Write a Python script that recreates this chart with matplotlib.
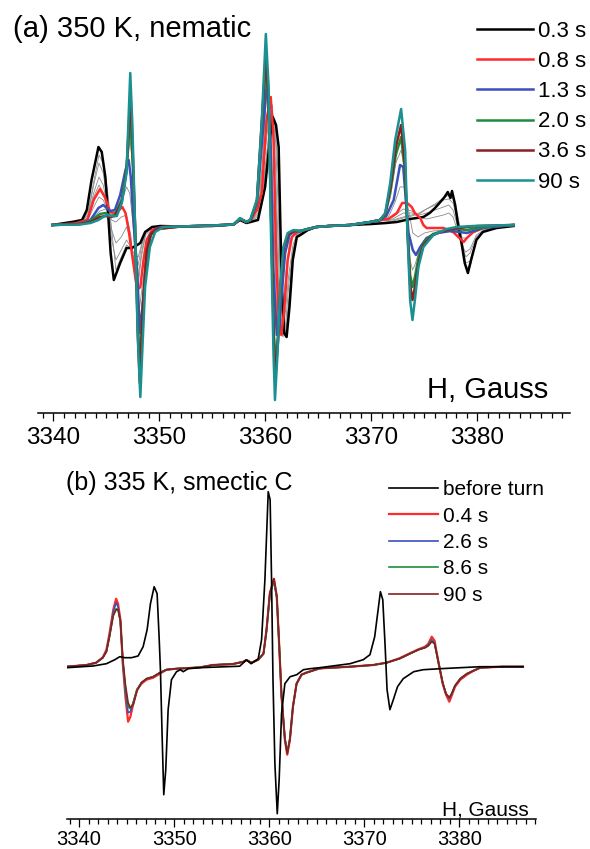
import matplotlib
matplotlib.use("Agg")
import matplotlib.pyplot as plt
from matplotlib.ticker import MultipleLocator

plt.rcParams['font.family'] = ['Liberation Sans', 'DejaVu Sans']

# ---------------- panel (a): 350 K, nematic ----------------
# field H (Gauss) and signal (arb. units, baseline = 0)
h_03s_a = [3339.9, 3341.9, 3342.7, 3343.15, 3343.6, 3344.25, 3344.56, 3344.9, 3345.2, 3345.4, 3345.7, 3346.3,
           3346.9, 3347.4, 3347.9, 3348.2, 3348.65, 3349.3, 3350.1,
           3352.0, 3355.0,
           3357.0, 3357.6, 3358.2, 3358.6, 3359.3, 3359.97, 3360.45, 3360.7, 3361.0, 3361.25, 3361.4, 3361.55,
           3361.77, 3362.0, 3362.27, 3362.58, 3362.96, 3363.3,
           3364.0, 3364.8, 3366.0, 3368.0, 3370.0,
           3371.4, 3372.4, 3373.65, 3374.9, 3375.5, 3376.0, 3376.5, 3376.9, 3377.2, 3377.45, 3377.6, 3377.9,
           3378.2, 3378.5, 3378.8, 3379.1, 3379.4, 3379.9, 3380.5, 3381.8, 3383.4]
i_03s_a = [0, 3.3, 5, 15, 45, 78, 73, 48, 5, -28, -55, -38, -23, -23, -20, -18, -7, -2, -1,
           -1.5, -1,
           0.5, 5, 2, 3, 5, 38, 88, 108, 100, 78, 5, -62, -108, -112, -82, -35, -12, -10,
           -5, -2, -1, 0, 1,
           2, 3, 6, 8, 12, 17, 23, 28, 33, 27, 34, 20, -2, -18, -38, -48, -35, -15, -7, -3, -1]

h_08s_a = [3339.9, 3342.0, 3343.2, 3343.8, 3344.4, 3344.9, 3345.35, 3345.8, 3346.2, 3346.5, 3346.8, 3347.1,
           3347.4, 3347.9, 3348.2, 3348.5, 3348.8, 3349.3, 3350.2,
           3352.0, 3355.0,
           3357.0, 3357.6, 3358.2, 3358.6, 3359.2, 3359.66, 3360.1, 3360.5, 3360.76, 3361.0, 3361.25, 3361.5,
           3361.77, 3362.1, 3362.5, 3363.0,
           3364.0, 3364.8, 3366.0, 3368.0, 3369.9,
           3370.8, 3371.6, 3372.4, 3372.9, 3373.37, 3373.8, 3374.1, 3374.6, 3374.9, 3375.2, 3375.84, 3376.8,
           3377.7, 3378.2, 3378.7, 3379.0, 3379.6, 3380.8, 3383.4]
i_08s_a = [0, 1.5, 5, 25, 36, 27, 13, 12, 15, 18, 12, -5, -28, -65, -62, -35, -15, -5, -2,
           -1.5, -0.5,
           0.5, 6, 3, 5, 15, 32, 105, 128, 88, -28, -95, -110, -85, -35, -12, -7,
           -4, -2, -1, 0, 3,
           5, 6, 12, 22, 22, 18, 12, 7, 0, -3, -3, -3, -7, -12, -17, -13, -7, -2, 0]

h_13s_a = [3339.9, 3342.5, 3343.5, 3344.25, 3344.7, 3345.35, 3345.8, 3346.3, 3346.8, 3347.1, 3347.3, 3347.55,
           3347.9, 3348.15, 3348.4, 3348.75, 3349.1, 3349.8,
           3352.0, 3355.0,
           3357.0, 3357.6, 3358.2, 3358.6, 3359.2, 3359.66, 3360.2, 3360.5, 3360.76, 3361.07, 3361.3, 3361.55,
           3361.86, 3362.27, 3362.8, 3363.3,
           3364.0, 3364.8, 3366.0, 3368.0, 3369.9,
           3370.8, 3371.4, 3372.1, 3372.7, 3373.0, 3373.27, 3373.5, 3373.9, 3374.2, 3374.6, 3375.2, 3376.2,
           3377.5, 3378.3, 3379.0, 3379.6, 3380.5, 3383.4]
i_13s_a = [0, 1, 5, 17, 20, 14, 15, 30, 55, 65, 48, 5, -45, -108, -82, -38, -10, -3,
           -1.5, -0.5,
           0.5, 6.5, 3, 5, 22, 80, 150, 78, -45, -110, -105, -68, -28, -10, -6, -6,
           -4, -2, -1, 0, 3,
           5, 9, 25, 60, 58, 22, -8, -25, -30, -22, -13, -8, -6, -7, -8, -6, -3, 0]

# 2.0 s and 3.6 s share the same field points
h_late_a = [3339.9, 3342.5, 3343.5, 3344.4, 3344.9, 3345.35, 3345.8, 3346.45, 3346.9, 3347.25, 3347.45, 3347.7,
            3347.95, 3348.15, 3348.45, 3348.8, 3349.2, 3349.8,
            3352.0, 3355.0,
            3357.0, 3357.6, 3358.2, 3358.6, 3359.2, 3359.66, 3360.05, 3360.3, 3360.55, 3360.8, 3360.95, 3361.2,
            3361.45, 3361.75, 3362.15, 3362.7, 3363.3,
            3364.0, 3364.8, 3366.0, 3368.0, 3369.9,
            3370.8, 3371.3, 3371.8, 3372.3, 3372.8, 3373.15, 3373.4, 3373.65, 3373.87, 3374.1, 3374.45, 3374.9,
            3375.8, 3377.1, 3378.2, 3379.0, 3380.0, 3381.5, 3383.4]
i_20s_a = [0, 1, 4, 11, 12, 9, 10, 25, 58, 105, 70, 0, -95, -148, -80, -28, -10, -4,
           -1.5, -0.5,
           0.5, 6.5, 3, 5, 24, 100, 163, 120, 0, -110, -140, -110, -58, -22, -9, -6, -6,
           -4, -2, -1, 0, 3,
           5, 10, 35, 70, 88, 55, -5, -50, -62, -52, -32, -18, -9, -5, -4, -5, -3, -1, 0]
i_36s_a = [0, 1, 3, 8, 9, 8, 9, 23, 55, 128, 85, 0, -105, -158, -78, -26, -9, -4,
           -1.5, -0.5,
           0.5, 6.5, 3, 5, 25, 103, 172, 125, 0, -120, -150, -115, -58, -22, -9, -6, -6,
           -4, -2, -1, 0, 3,
           5, 11, 38, 78, 100, 62, -5, -60, -75, -62, -38, -20, -10, -5, -3, -2, -1, -0.5, 0]

h_90s_a = [3339.9, 3342.5, 3343.5, 3344.25, 3345.0, 3345.5, 3345.98, 3346.45, 3346.9, 3347.1, 3347.25, 3347.45,
           3347.7, 3347.95, 3348.2, 3348.45, 3348.65, 3349.1, 3349.6, 3350.4,
           3352.0, 3355.0,
           3357.0, 3357.6, 3358.2, 3358.55, 3359.2, 3359.66, 3360.04, 3360.3, 3360.5, 3360.76, 3360.9, 3361.14,
           3361.4, 3361.7, 3362.1, 3362.65, 3363.3,
           3364.0, 3364.8, 3366.0, 3368.0, 3369.88,
           3370.8, 3371.3, 3371.77, 3372.24, 3372.8, 3373.18, 3373.4, 3373.65, 3373.87, 3374.1, 3374.43, 3374.9,
           3375.84, 3377.1, 3378.04, 3379.6, 3383.4]
i_90s_a = [0, 0.5, 2, 5, 10, 9, 9, 22, 52, 110, 152, 100, 0, -110, -172, -110, -62, -22, -7, -2,
           -1.5, -0.5,
           0.5, 6.7, 3.3, 5, 25, 105, 191, 138, 5, -128, -175, -128, -62, -22, -8, -5, -6,
           -4, -2, -1, 0, 3,
           5, 12, 42, 85, 116, 75, -8, -75, -95, -75, -42, -22, -10, -4, -2, -1, 0]

# thin grey intermediate spectra
h_grey_a = [3339.9, 3342.5, 3343.3, 3343.8, 3344.3, 3344.7, 3345.1, 3345.5, 3345.9, 3346.4, 3346.9, 3347.3,
            3347.7, 3348.0, 3348.3, 3348.7, 3349.3, 3350.5,
            3355.0,
            3357.0, 3357.6, 3358.2, 3358.6, 3359.3, 3359.9, 3360.4, 3360.65, 3360.95, 3361.2, 3361.4, 3361.65,
            3361.9, 3362.2, 3362.6, 3363.0,
            3364.8, 3368.0,
            3370.8, 3372.0, 3373.0, 3373.8, 3374.5, 3375.2, 3376.0, 3376.8, 3377.3, 3377.7, 3378.1, 3378.5,
            3378.9, 3379.3, 3379.9, 3380.6, 3382.0, 3383.4]
i_grey0_a = [0, 3.2, 14, 43, 70, 62, 35, -5, -45, -32, -20, -23, -30, -32, -20, -7, -2, -1,
             -0.7,
             0.5, 5, 2, 3.5, 6, 44, 94, 112, 95, 50, -35, -106, -112, -80, -32, -11,
             -2, 0.5,
             2, 4, 7, 9, 11, 16, 21, 27, 30, 26, 12, -10, -42, -42, -15, -7, -2, -1]
i_grey1_a = [0, 3, 12, 40, 62, 52, 22, -15, -35, -25, -15, -22, -38, -40, -22, -7, -2, -1,
             -0.5,
             0.5, 5.5, 2.5, 4, 8, 50, 100, 115, 85, 20, -60, -105, -110, -75, -30, -10,
             -2, 0,
             4, 5, 8, 10, 12, 16, 20, 25, 26, 22, 5, -18, -38, -36, -14, -6, -2, -1]
i_grey2_a = [0, 2.5, 10, 32, 48, 40, 18, -5, -18, -12, -2, -15, -45, -52, -28, -8, -2, -1,
             -0.5,
             0.5, 6, 3, 4.5, 10, 65, 115, 120, 60, -20, -90, -112, -100, -60, -25, -9,
             -2, 0,
             4, 6, 12, 12, 10, 12, 15, 18, 20, 15, 0, -18, -32, -28, -12, -5, -2, -1]
i_grey3_a = [0, 2, 8, 28, 40, 32, 14, 5, 3, 8, 10, -10, -55, -60, -32, -10, -3, -1,
             -0.5,
             0.5, 6, 3, 5, 12, 80, 125, 110, 30, -50, -105, -110, -85, -50, -20, -8,
             -2, 0,
             4, 8, 16, 14, 8, 6, 8, 10, 12, 8, -5, -20, -27, -24, -10, -5, -2, -1]
h_grey4_a = [3339.9, 3342.5, 3343.3, 3343.8, 3344.3, 3344.7, 3345.1, 3345.5, 3345.9, 3346.4, 3346.9, 3347.2,
             3347.5, 3347.8, 3348.1, 3348.4, 3348.8, 3349.3, 3350.5,
             3355.0,
             3357.0, 3357.6, 3358.2, 3358.6, 3359.2, 3359.66, 3360.15, 3360.45, 3360.75, 3361.05, 3361.3, 3361.6,
             3361.95, 3362.3, 3362.8, 3363.2,
             3364.8, 3368.0,
             3370.8, 3371.6, 3372.2, 3372.7, 3373.1, 3373.5, 3373.9, 3374.4, 3375.0, 3375.8, 3377.0, 3377.8,
             3378.5, 3379.0, 3379.6, 3380.5, 3382.0, 3383.4]
i_grey4_a = [0, 1.5, 6, 18, 28, 25, 15, 12, 13, 22, 38, 32, 2, -50, -85, -60, -20, -4, -1,
             -0.5,
             0.5, 6.5, 3, 5, 18, 55, 138, 110, 20, -85, -110, -90, -45, -15, -7, -6,
             -2, 0,
             5, 8, 22, 38, 38, 15, -8, -12, -8, -6, -5, -8, -13, -13, -8, -4, -1, 0]
# between 1.3 s and 2.0 s (drawn on the h_late_a points)
i_grey5_a = [0, 1, 4.5, 14, 16, 12, 12, 28, 58, 85, 60, 10, -75, -128, -80, -30, -10, -4,
             -1.5, -0.5,
             0.5, 6.5, 3, 5, 23, 92, 158, 125, 20, -100, -125, -105, -60, -24, -9, -6, -6,
             -4, -2, -1, 0, 3,
             5, 9, 28, 62, 75, 55, 5, -35, -45, -40, -28, -16, -9, -6, -5, -6, -3, -1, 0]

labels_a = ['0.3 s', '0.8 s', '1.3 s', '2.0 s', '3.6 s', '90 s']

# ---------------- panel (b): 335 K, smectic C ----------------
h_before_b = [3338.67, 3341.47, 3342.88, 3343.76, 3344.28, 3344.81, 3345.51, 3346.21, 3346.74, 3347.16, 3347.51,
              3347.9, 3348.21, 3348.42, 3348.56, 3348.74, 3348.91, 3349.12, 3349.37, 3349.72, 3350.25, 3350.67,
              3350.95, 3351.48, 3352.7,
              3356.9, 3357.6, 3358.1, 3358.85, 3359.2, 3359.55, 3359.9, 3360.1, 3360.25, 3360.4, 3360.6, 3360.85,
              3361.05, 3361.3, 3361.65, 3362.2, 3362.9, 3363.6, 3364.3,
              3365.3, 3368.5, 3369.9, 3370.6, 3371.1, 3371.5, 3371.7, 3371.95, 3372.2, 3372.4, 3372.7, 3373.06,
              3373.5, 3374.1, 3375.2, 3376.2, 3378.0, 3380.1, 3382.2, 3386.7]
i_before_b = [-1, 0.7, 3, 7, 10, 9, 9, 10.7, 20, 37, 63, 80, 73, 30, -3, -70, -128, -103, -43, -13, -5, -3, -5, -2, -1,
              0.5, 6.7, 3, 8, 27, 87, 175, 167, 87, -13, -97, -147, -113, -47, -17, -10, -8, -3, -2,
              -1, 3, 7, 12, 30, 60, 75, 67, 20, -23, -43, -33, -20, -12, -5, -3, -2, -1, 0, 0]

h_after_b = [3338.67, 3340.78, 3341.8, 3342.5, 3342.88, 3343.2, 3343.6, 3343.9, 3344.1, 3344.35, 3344.6, 3344.88,
             3345.16, 3345.4, 3345.7, 3346.1, 3346.56, 3347.1, 3347.8, 3348.5, 3349.2, 3350.25, 3352.7,
             3354.1, 3356.2, 3357.3, 3357.6, 3358.15, 3358.85, 3359.4, 3359.72, 3360.07, 3360.5, 3360.8, 3361.06,
             3361.3, 3361.65, 3361.9, 3362.18, 3362.5, 3362.88, 3363.4, 3363.9,
             3365.3, 3368.5, 3370.95, 3372.35, 3373.7, 3374.8, 3375.7, 3376.4, 3376.74, 3377.1, 3377.4, 3377.6,
             3377.9, 3378.25, 3378.6, 3378.95, 3379.2, 3379.55, 3380.1, 3380.8, 3381.5, 3382.2, 3384.5, 3386.7]
i_04s_b = [0, 1.7, 4, 9.4, 17, 33, 57, 68, 63, 47, 3, -30, -55, -50, -37, -23, -17, -13, -11, -7, -3, -2, -0.7,
           1.7, 2.7, 5, 6.7, 4, 7, 13, 37, 73, 88, 70, 20, -30, -73, -88, -73, -40, -17, -8, -6,
           -1.7, 0, 1.7, 4, 8.4, 13.4, 17.4, 20, 23, 30, 26, 15, 0, -17, -28, -35, -29, -20, -13, -8, -4, -1, 0, 0]
i_26s_b = [0, 1.7, 4, 9, 16, 31, 55, 64, 60, 45, 4, -26, -46, -45, -36, -23, -16, -12, -10, -6, -3, -2, -0.7,
           1.7, 2.7, 5, 6.7, 4, 7, 13, 36, 72, 86, 69, 20, -30, -72, -86, -72, -40, -17, -8, -6,
           -1.7, 0, 1.7, 4, 8, 13, 17, 19.5, 22, 27, 24, 14, 0, -16, -27, -32, -27, -19, -12, -7, -4, -1, 0, 0]
i_86s_b = [0, 1.7, 4, 9, 15, 30, 52, 58, 57, 45, 6, -22, -40, -42, -36, -23, -16, -12, -10, -6, -3, -2, -0.7,
           1.7, 2.7, 5, 6.7, 4, 7, 13, 36, 72, 86, 69, 20, -30, -72, -86, -72, -40, -17, -8, -6,
           -1.7, 0, 1.7, 4, 8, 13, 17, 19, 21, 26, 23, 14, 0, -16, -27, -31, -27, -19, -12, -7, -4, -1, 0, 0]
i_90s_b = [0, 1.7, 4, 9, 15, 30, 51, 57, 57, 46, 8, -18, -36, -41, -38, -24, -16, -12, -10, -6, -3, -2, -0.7,
           1.7, 2.7, 5, 6.7, 4, 7, 13, 37, 74, 88, 71, 21, -29, -72, -87, -73, -40, -17, -8, -6,
           -1.7, 0, 1.7, 4, 8, 13, 17, 19, 21, 25, 23, 14, 0, -16, -27, -31, -27, -19, -12, -7, -4, -1, 0, 0]

labels_b = ['before turn', '0.4 s', '2.6 s', '8.6 s', '90 s']

ticks = [3340, 3350, 3360, 3370, 3380]

c_red = '#ff2a2a'
c_blue = '#3b4fbd'
c_green = '#1e8c3c'
c_dred = '#8b1e1e'
c_teal = '#1a9090'
c_grey = '#8c8c8c'

W, H = 590, 849
fig = plt.figure(figsize=(W / 100, H / 100), dpi=100)


def px_axes(x0, x1, y_top, y_bot):
    return fig.add_axes([x0 / W, 1 - y_bot / H, (x1 - x0) / W, (y_bot - y_top) / H])


def style_axis(ax, xlim, ylim, fs, pad):
    ax.set_xlim(*xlim)
    ax.set_ylim(*ylim)
    for s in ['left', 'right', 'top']:
        ax.spines[s].set_visible(False)
    ax.spines['bottom'].set_linewidth(1.1)
    ax.set_yticks([])
    ax.set_xticks(ticks)
    ax.xaxis.set_minor_locator(MultipleLocator(1))
    ax.tick_params(axis='x', which='major', direction='out', length=5.5, width=0.9, pad=pad, labelsize=fs)
    ax.tick_params(axis='x', which='minor', direction='out', length=3.6, width=0.9)
    ax.patch.set_alpha(0)


# ---- panel (a)
ax_a = px_axes(37.5, 570.2, 3, 413)
style_axis(ax_a, (3338.5, 3388.75), (-188, 222), 17.5, 4.5)

for h, i in [(h_grey_a, i_grey0_a), (h_grey_a, i_grey1_a), (h_grey_a, i_grey2_a), (h_grey_a, i_grey3_a),
             (h_grey4_a, i_grey4_a), (h_late_a, i_grey5_a)]:
    ax_a.plot(h, i, color=c_grey, lw=0.6, zorder=1)

lines_a = []
for h, i, c in [(h_03s_a, i_03s_a, 'black'), (h_08s_a, i_08s_a, c_red), (h_13s_a, i_13s_a, c_blue),
                (h_late_a, i_20s_a, c_green), (h_late_a, i_36s_a, c_dred), (h_90s_a, i_90s_a, c_teal)]:
    ln, = ax_a.plot(h, i, color=c, lw=1.8, zorder=2, solid_joinstyle='round')
    lines_a.append(ln)

leg_a = ax_a.legend(lines_a, labels_a, loc='upper left', bbox_to_anchor=(477 / W, 1 - 21 / H),
                    bbox_transform=fig.transFigure, frameon=False, fontsize=16, handlelength=2.5,
                    handletextpad=0.25, labelspacing=0.41, borderpad=0, borderaxespad=0)

fig.text(13 / W, 1 - 37 / H, '(a) 350 K, nematic', fontsize=21, va='baseline', ha='left')
fig.text(548 / W, 1 - 398 / H, 'H, Gauss', fontsize=21, va='baseline', ha='right')

# ---- panel (b)
ax_b = px_axes(66.7, 536.3, 445, 819)
style_axis(ax_b, (3338.7, 3388.1), (-152.3, 221.7), 14.5, 2.5)

after_b = [(i_04s_b, c_red, 1.6), (i_26s_b, c_blue, 1.2), (i_86s_b, c_green, 1.2), (i_90s_b, c_dred, 1.2)]
lines_b = []
ln, = ax_b.plot(h_before_b, i_before_b, color='black', lw=1.2, zorder=3)
lines_b.append(ln)
for i, c, lw in after_b:
    ln, = ax_b.plot(h_after_b, i, color=c, lw=lw, zorder=2)
    lines_b.append(ln)

leg_b = ax_b.legend(lines_b, labels_b, loc='upper left', bbox_to_anchor=(389 / W, 1 - 480 / H),
                    bbox_transform=fig.transFigure, frameon=False, fontsize=15, handlelength=2.35,
                    handletextpad=0.24, labelspacing=0.36, borderpad=0, borderaxespad=0)

fig.text(66 / W, 1 - 490 / H, '(b) 335 K, smectic C', fontsize=18, va='baseline', ha='left')
fig.text(529 / W, 1 - 815.7 / H, 'H, Gauss', fontsize=15, va='baseline', ha='right')

fig.savefig('out.png', dpi=100)
